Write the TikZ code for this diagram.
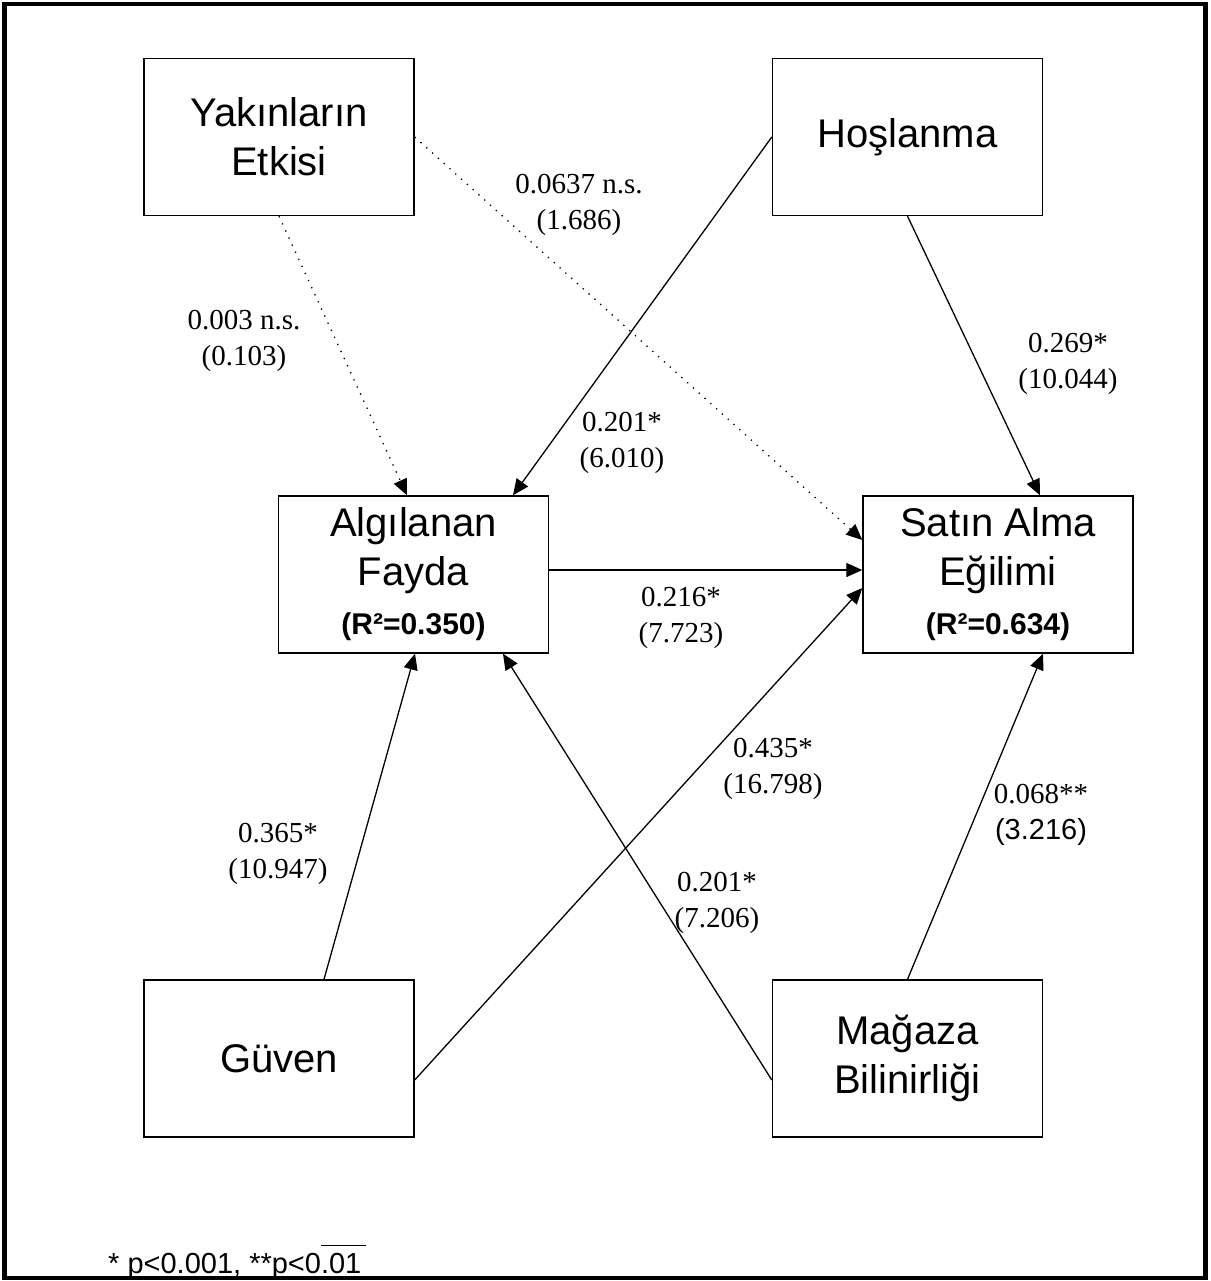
\documentclass[tikz,border=0pt]{standalone}
\usepackage{fontspec}
\setmainfont{Liberation Serif}
\setsansfont{Liberation Sans}
\usetikzlibrary{arrows.meta,positioning,calc}

\begin{document}
\begin{tikzpicture}[x=1pt,y=-1pt,
		construct/.style={rectangle,draw,line width=1.4pt,minimum width=270pt,minimum height=157pt,align=center,font=\fontsize{40}{49}\selectfont\sffamily},
		effect/.style={-{Triangle[length=16pt,width=14pt]},line width=1.3pt},
		weak/.style={effect,dash pattern=on 1.3pt off 6.5pt},
		coef/.style={align=center,font=\fontsize{29}{36}\selectfont}]
		\useasboundingbox (0,0) rectangle (1210,1281);
		\draw[line width=4.5pt] (4.5,4) rectangle (1205.5,1278);

		\node[construct] (yakin) at (279, 137) {Yakınların\\Etkisi};
		\node[construct] (hos) at (907.5, 137) {Hoşlanma};
		\node[construct] (alg) at (413.5, 574.5) {Algılanan\\Fayda\\{\fontsize{30}{36}\selectfont\bfseries (R²=0.350)}};
		\node[construct] (sat) at (998, 574.5) {Satın Alma\\Eğilimi\\{\fontsize{30}{36}\selectfont\bfseries (R²=0.634)}};
		\node[construct] (guv) at (279, 1058.5) {Güven};
		\node[construct] (mag) at (907.5, 1058.5) {Mağaza\\Bilinirliği};

		\draw[weak] (yakin.south) -- ([xshift=-6.5pt]alg.north);
		\draw[weak] (yakin.east) -- ([yshift=34.5pt]sat.west);
		\draw[effect] (hos.west) -- ([xshift=99.5pt]alg.north);
		\draw[effect] (hos.south) -- ([xshift=42pt]sat.north);
		\draw[effect] ([yshift=4.5pt]alg.east) -- ([yshift=4.5pt]sat.west);
		\draw[effect] ([xshift=45pt]guv.north) -- ([xshift=1.5pt]alg.south);
		\draw[effect] ([yshift=-21.5pt]guv.east) -- ([yshift=-13.5pt]sat.west);
		\draw[effect] ([yshift=-21.5pt]mag.west) -- ([xshift=89.5pt]alg.south);
		\draw[effect] (mag.north) -- ([xshift=45pt]sat.south);

		\node[coef] (c-yakin-sat) at (579, 205) {0.0637 n.s.\\(1.686)};
		\node[coef] (c-yakin-alg) at (244, 341) {0.003 n.s.\\(0.103)};
		\node[coef] (c-hos-sat) at (1068, 364) {0.269*\\(10.044)};
		\node[coef] (c-hos-alg) at (622, 443) {0.201*\\(6.010)};
		\node[coef] (c-alg-sat) at (681, 618) {0.216*\\(7.723)};
		\node[coef] (c-guv-sat) at (773, 769) {0.435*\\(16.798)};
		\node[coef] (c-guv-alg) at (278, 854) {0.365*\\(10.947)};
		\node[coef] (c-mag-alg) at (717, 903) {0.201*\\(7.206)};
		\node[coef] (c-mag-sat) at (1041, 815) {0.068**\\\textsf{(3.216)}};

		\node[anchor=base west,inner sep=0pt,font=\fontsize{29}{34}\selectfont\sffamily] (note) at (108, 1273) {* p<0.001, **p<0$\overline{\mbox{\rule{0pt}{26pt}.01\hspace{5pt}}}$};
	\end{tikzpicture}
\end{document}
